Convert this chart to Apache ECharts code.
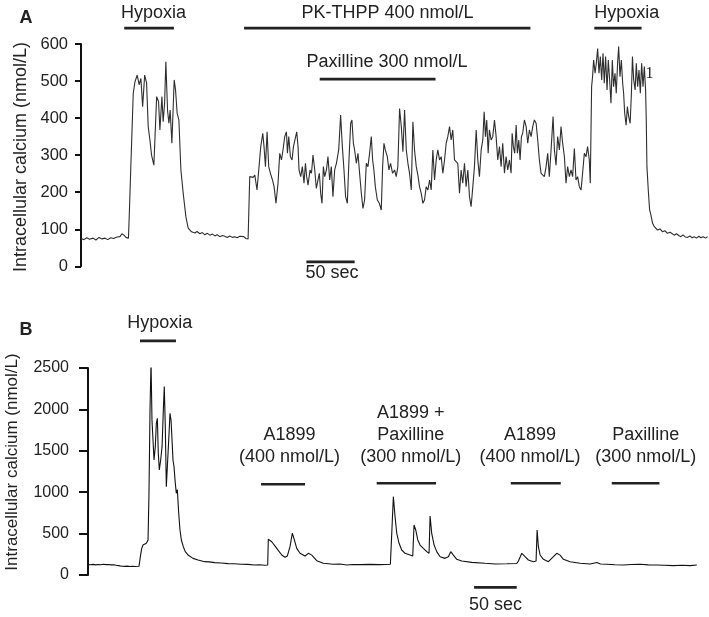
<!DOCTYPE html>
<html>
<head>
<meta charset="utf-8">
<title>Intracellular calcium traces</title>
<script src="https://cdn.jsdelivr.net/npm/echarts@6.0.0/dist/echarts.min.js"></script>
<style>
  html, body { margin: 0; padding: 0; background: #fff; }
  #chart { width: 709px; height: 617px; }
</style>
</head>
<body>
<div id="chart"></div>
<script>
// panel A trace: [time (sec), calcium (nmol/L)]
const traceA = [
  [0,75],[3,72],[6,77],[9,73],[12.5,76],[15.6,71],[18.8,78],[21.9,74],[25,76],[28,72],[31,77],[34,75],
  [37.5,79],[40.6,80],[42.7,88],[44.8,84],[46.9,78],[49.5,76],[50.5,150],[51.8,255],[52.8,258],[54.5,467],
  [56.3,498],[58.6,516],[60.7,490],[62.5,507],[64.3,431],[66.4,516],[68.4,495],[70.1,377],[71.9,341],[73.6,300],
  [76,273],[78.9,458],[80.9,445],[82.3,368],[84.4,458],[85.7,390],[87.2,440],[88.5,552],[90.3,420],[91.7,386],
  [93,422],[94.8,332],[97.2,503],[98.6,476],[100.3,413],[102.1,395],[104.2,260],[106.6,197],[109.4,134],[111.8,103],
  [115.3,93],[117,97],[118.8,90],[121,94],[124,88],[126.5,91],[129.2,85],[131.8,89],[134.4,84],[137,87],
  [139.6,82],[142,85],[144.8,80],[147.5,83],[150,81],[152.5,78],[155.2,82],[157.8,78],[160.4,80],[163,77],
  [165.6,81],[167.5,76],[169.8,80],[172,75],[174.3,74],
  [176,242],[177.8,246],[179.5,240],[181.3,246],[183.6,206],[185.4,260],[187.5,323],[189.6,359],[190.9,323],[192.4,269],
  [194.1,363],[195.8,269],[197.6,251],[199.7,233],[201.4,215],[203.4,170],[205.5,224],[207.3,305],[209.1,287],[210.7,314],
  [212.5,350],[214.3,363],[215.3,305],[216.7,350],[218.4,296],[220.1,287],[221.6,323],[222.9,327],[225,363],[226.4,323],
  [227.4,260],[229.2,242],[230.9,269],[232.6,224],[234.1,278],[235.4,242],[236.8,219],[238.9,260],[240.4,251],[242,300],
  [243.8,260],[245.5,210],[247.2,233],[248.6,251],[250,197],[251.4,170],[252.8,269],[254.2,242],[256,260],[257.6,296],
  [259.4,233],[261.1,269],[262.8,188],[264.6,260],[266.4,278],[268.8,314],[270.8,408],[272.6,323],[274.3,260],[276,188],
  [277.8,170],[279.5,287],[281.3,386],[282.6,395],[284.1,332],[285.4,314],[287.2,278],[288.9,305],[290.6,251],[292.4,197],
  [294.1,156],[295.8,179],[297.6,278],[299.3,269],[301,305],[302.8,350],[304.2,287],[305.5,260],[307,215],[309.1,179],
  [311.2,170],[313.2,152],[314.6,269],[316,332],[317.4,314],[319.5,296],[321.2,260],[322.9,278],[325,251],[327.1,260],
  [328.8,242],[330.5,269],[332.3,426],[334.1,377],[335.8,309],[337.5,422],[339.3,314],[341,278],[342.7,251],[344.5,206],
  [346.2,390],[347.9,314],[349.7,269],[351.4,246],[353.1,215],[354.9,197],[356.6,170],[358.3,179],[360.1,215],[361.8,206],
  [363.6,233],[365.3,206],[367,314],[368.8,233],[370.5,287],[372.2,314],[374,287],[375.7,296],[377.4,251],[379.2,287],
  [380.9,332],[382.6,350],[384.4,377],[386.1,341],[387.8,368],[389.6,287],[391.3,282],[393,278],[394.8,197],[396.5,260],
  [398.2,224],[400,278],[401.7,215],[403.5,260],[405.2,188],[406.9,161],[408.7,215],[410.4,269],[412.2,368],[413.9,287],
  [415.6,242],[417.4,314],[419.1,341],[420.5,417],[421.9,350],[423.2,395],[424.7,305],[426,368],[427.8,341],[429.5,350],
  [431.3,395],[433,350],[434.7,287],[436.5,323],[438.2,269],[439.9,332],[441.7,251],[443.4,296],[445.1,260],[446.9,287],
  [448.6,251],[449.7,359],[451,323],[452.4,305],[453.9,381],[455.2,305],[456.6,341],[458,287],[459.4,350],[460.7,359],
  [462.5,395],[464.3,377],[466,332],[467.7,368],[469.5,350],[471.2,377],[472.9,395],[474.7,386],[476.4,341],[478.1,287],
  [479.9,251],[481.6,246],[483.3,242],[485.1,269],[486.8,305],[488.5,242],[490.3,314],[492.4,404],[493.8,314],[495.5,273],
  [497.2,350],[499,314],[500.7,377],[502.4,332],[504.2,296],[505.9,224],[507.6,269],[509.4,242],[511.1,260],[512.8,242],
  [514.6,318],[516.3,233],[518,242],[519.8,215],[521.6,206],[523.2,251],[525,305],[526.8,296],[528.4,323],[530.2,287],
  [531.2,224],[532.6,485],[533.6,512],[534.7,557],[536.2,521],[537.5,548],[538.9,588],[540.3,521],[541.7,566],[543.1,503],
  [544.5,575],[545.8,494],[547.2,566],[548.7,476],[550,557],[551.4,503],[552.8,440],[554.2,557],[555.5,485],[557,521],
  [558.3,467],[559.7,548],[560.8,593],[562.2,512],[563.6,557],[565,494],[566,467],[567.1,413],[568.6,381],[569.9,431],
  [571.3,404],[572.8,386],[574.1,467],[575.2,566],[576.5,503],[578,476],[579.2,548],[580.6,485],[582,530],[583.4,467],
  [584.8,548],[586.2,485],[587.6,539],[588.9,476],[589.6,395],[590.3,269],[591.7,206],[593.1,152],[594.5,138],[596.2,116],
  [598,107],[601.4,98],[604,101],[606.6,93],[609,96],[611.8,89],[614.5,92],[618.8,84],[621,88],[623.5,83],
  [625.7,80],[628,85],[630.5,79],[632.7,78],[635,82],[637.5,77],[639.6,80],[642,76],[644.5,81],[646.6,77],
  [649,80],[651.5,76],[653.6,80]
];

// panel B trace: [time (sec), calcium (nmol/L)]
const traceB = [
  [0,125],[3,123],[6,128],[9,122],[12,127],[15,124],[18,129],[21,125],[24,126],[27,122],[30,124],[33,118],
  [37.5,110],[40,106],[43.3,104],[46,107],[49.2,103],[52,106],[55,102],[59.7,105],[61.7,250],[62.9,322],
  [64.4,362],[66,350],[68.3,383],[70.3,423],[71.4,987],[72.6,1993],[73.8,2577],[74.9,1872],[76.1,1631],[77.3,1389],
  [78.8,1550],[80,1832],[81.2,1893],[82.3,1470],[83.5,1268],[85.1,1389],[86.7,1550],[88.2,1993],[89.3,2275],[90.5,1791],
  [91.7,1067],[92.9,1308],[94.5,1631],[96,1953],[97.2,1872],[98.4,1631],[99.5,1389],[100.7,1308],[102.2,1108],[103.4,987],
  [104.6,1030],[106.2,745],[107.7,544],[109.3,423],[111.6,342],[113.9,282],[117.1,242],[123,201],[128.8,181],[136.7,161],
  [142,158],[148.4,149],[156,145],[163.9,137],[171,135],[179.5,129],[187,128],[195.2,121],[201,124],[206.9,117],
  [210.4,121],[211.1,431],[213,420],[215.1,402],[221,322],[226.8,242],[230.7,214],[233.4,230],[236.5,342],[239.2,504],
  [241.2,440],[244.4,322],[248.3,262],[254.1,230],[258,262],[262,240],[267.8,173],[275.5,141],[287.3,129],[295,132],
  [303,121],[310,127],[318.5,125],[330.2,128],[341.9,125],[354,130],[355.2,400],[357.5,946],[359.5,704],[361.5,504],
  [364.2,383],[367.3,302],[371.2,262],[377.1,242],[380.2,230],[381.7,604],[383.7,544],[386.1,423],[388.8,362],[392.6,322],
  [396.6,282],[399.3,262],[400.5,713],[402.4,504],[405.2,362],[408.3,282],[412.2,221],[418,201],[421.9,221],[424.7,282],
  [427.8,240],[431.7,189],[437.6,169],[449.3,153],[464.9,141],[476.6,133],[490.3,135],[502,138],[503.9,170],[507.9,262],
  [511.7,221],[515.6,181],[521.5,161],[524.6,170],[525.8,544],[527.3,342],[529.3,242],[533.2,189],[539,161],[544.9,221],
  [548.8,262],[552.7,240],[556.6,189],[564.4,161],[576.1,141],[587.8,133],[595.7,150],[600,132],[607.4,129],[617,124],
  [627,121],[636,127],[646.4,129],[656,122],[665.9,121],[675,118],[685.4,113],[695,117],[705,113],[712.8,121]
];

// stimulus bars (sec) and the calcium level they are drawn at
const barStartA = [45.1, 170.1, 249, 535.4, 235.1];
const barEndA = [96.9, 468.8, 369.8, 584.7, 285.4];
const barLevelA = [643, 643, 505, 643, 12];

const barStartB = [60.9, 202.6, 338, 495, 613.2, 452];
const barEndB = [103, 254.1, 407.5, 553.5, 669, 502];
const barLevelB = [2827, 1096, 1108, 1108, 1108, -149];

const ticksA = { min: 0, max: 600, interval: 100 };
const ticksB = { min: 0, max: 2500, interval: 500 };

const font = 'Liberation Sans, Arial, sans-serif';
const myChart = echarts.init(document.getElementById('chart'));

function barSeries(starts, ends, levels, idx) {
  return starts.map((s, i) => ({
    type: 'line',
    xAxisIndex: idx,
    yAxisIndex: idx,
    data: [[s, levels[i]], [ends[i], levels[i]]],
    showSymbol: false,
    clip: false,
    silent: true,
    lineStyle: { color: '#222', width: 2.7 }
  }));
}

function yAxisFor(ticks, idx, tickLen, margin, size) {
  return {
    gridIndex: idx,
    type: 'value',
    min: ticks.min,
    max: ticks.max,
    interval: ticks.interval,
    axisLine: { show: true, lineStyle: { color: '#111', width: 2 } },
    axisTick: { show: true, length: tickLen, lineStyle: { color: '#111', width: 2 } },
    // plain numbers, no thousands separator
    axisLabel: { fontSize: size, color: '#222', margin: margin, fontFamily: font, formatter: v => String(v) },
    splitLine: { show: false }
  };
}

function txt(text, x, y, opts) {
  return {
    type: 'text',
    x: x,
    y: y,
    rotation: (opts && opts.rotation) || 0,
    style: {
      text: text,
      fill: '#222',
      fontSize: (opts && opts.size) || 18,
      fontWeight: (opts && opts.weight) || 'normal',
      fontFamily: (opts && opts.family) || font,
      align: 'center',
      verticalAlign: 'middle'
    }
  };
}

const option = {
  animation: false,
  backgroundColor: '#fff',
  grid: [
    { left: 81, top: 44, width: 627, height: 222.3 },
    { left: 88, top: 368, width: 609, height: 207 }
  ],
  xAxis: [
    { gridIndex: 0, type: 'value', min: 0, max: 654, show: false },
    { gridIndex: 1, type: 'value', min: 0, max: 713, show: false }
  ],
  yAxis: [
    yAxisFor(ticksA, 0, 6, 13, 16.5),
    yAxisFor(ticksB, 1, 9, 19, 16)
  ],
  series: [
    {
      type: 'line',
      xAxisIndex: 0,
      yAxisIndex: 0,
      data: traceA,
      showSymbol: false,
      lineStyle: { color: '#2e2e2e', width: 1.1 }
    },
    {
      type: 'line',
      xAxisIndex: 1,
      yAxisIndex: 1,
      data: traceB,
      showSymbol: false,
      lineStyle: { color: '#111', width: 1.1 }
    }
  ].concat(barSeries(barStartA, barEndA, barLevelA, 0), barSeries(barStartB, barEndB, barLevelB, 1)),
  graphic: [
    txt('A', 26, 18, { weight: 'bold', size: 18 }),
    txt('Intracellular calcium (nmol/L)', 21.5, 157, { rotation: Math.PI / 2, size: 18 }),
    txt('Hypoxia', 153.5, 13.5),
    txt('PK-THPP 400 nmol/L', 387.5, 13.5),
    txt('Paxilline 300 nmol/L', 387, 62),
    txt('Hypoxia', 626.7, 13.5),
    txt('50 sec', 332, 273.5),
    txt('1', 649.5, 74, { size: 16, family: 'Liberation Serif, serif' }),

    txt('B', 26, 330, { weight: 'bold', size: 18 }),
    txt('Intracellular calcium (nmol/L)', 12.5, 462, { rotation: Math.PI / 2, size: 17 }),
    txt('Hypoxia', 159.7, 323),
    txt('A1899', 289.5, 435),
    txt('(400 nmol/L)', 289.5, 457),
    txt('A1899 +', 410.8, 413.5),
    txt('Paxilline', 410.8, 435),
    txt('(300 nmol/L)', 410.8, 457),
    txt('A1899', 530, 435),
    txt('(400 nmol/L)', 530, 457),
    txt('Paxilline', 645.8, 435),
    txt('(300 nmol/L)', 645.8, 457),
    txt('50 sec', 495.5, 605)
  ]
};

myChart.setOption(option);
window.addEventListener('resize', () => myChart.resize(), false);
</script>
</body>
</html>
